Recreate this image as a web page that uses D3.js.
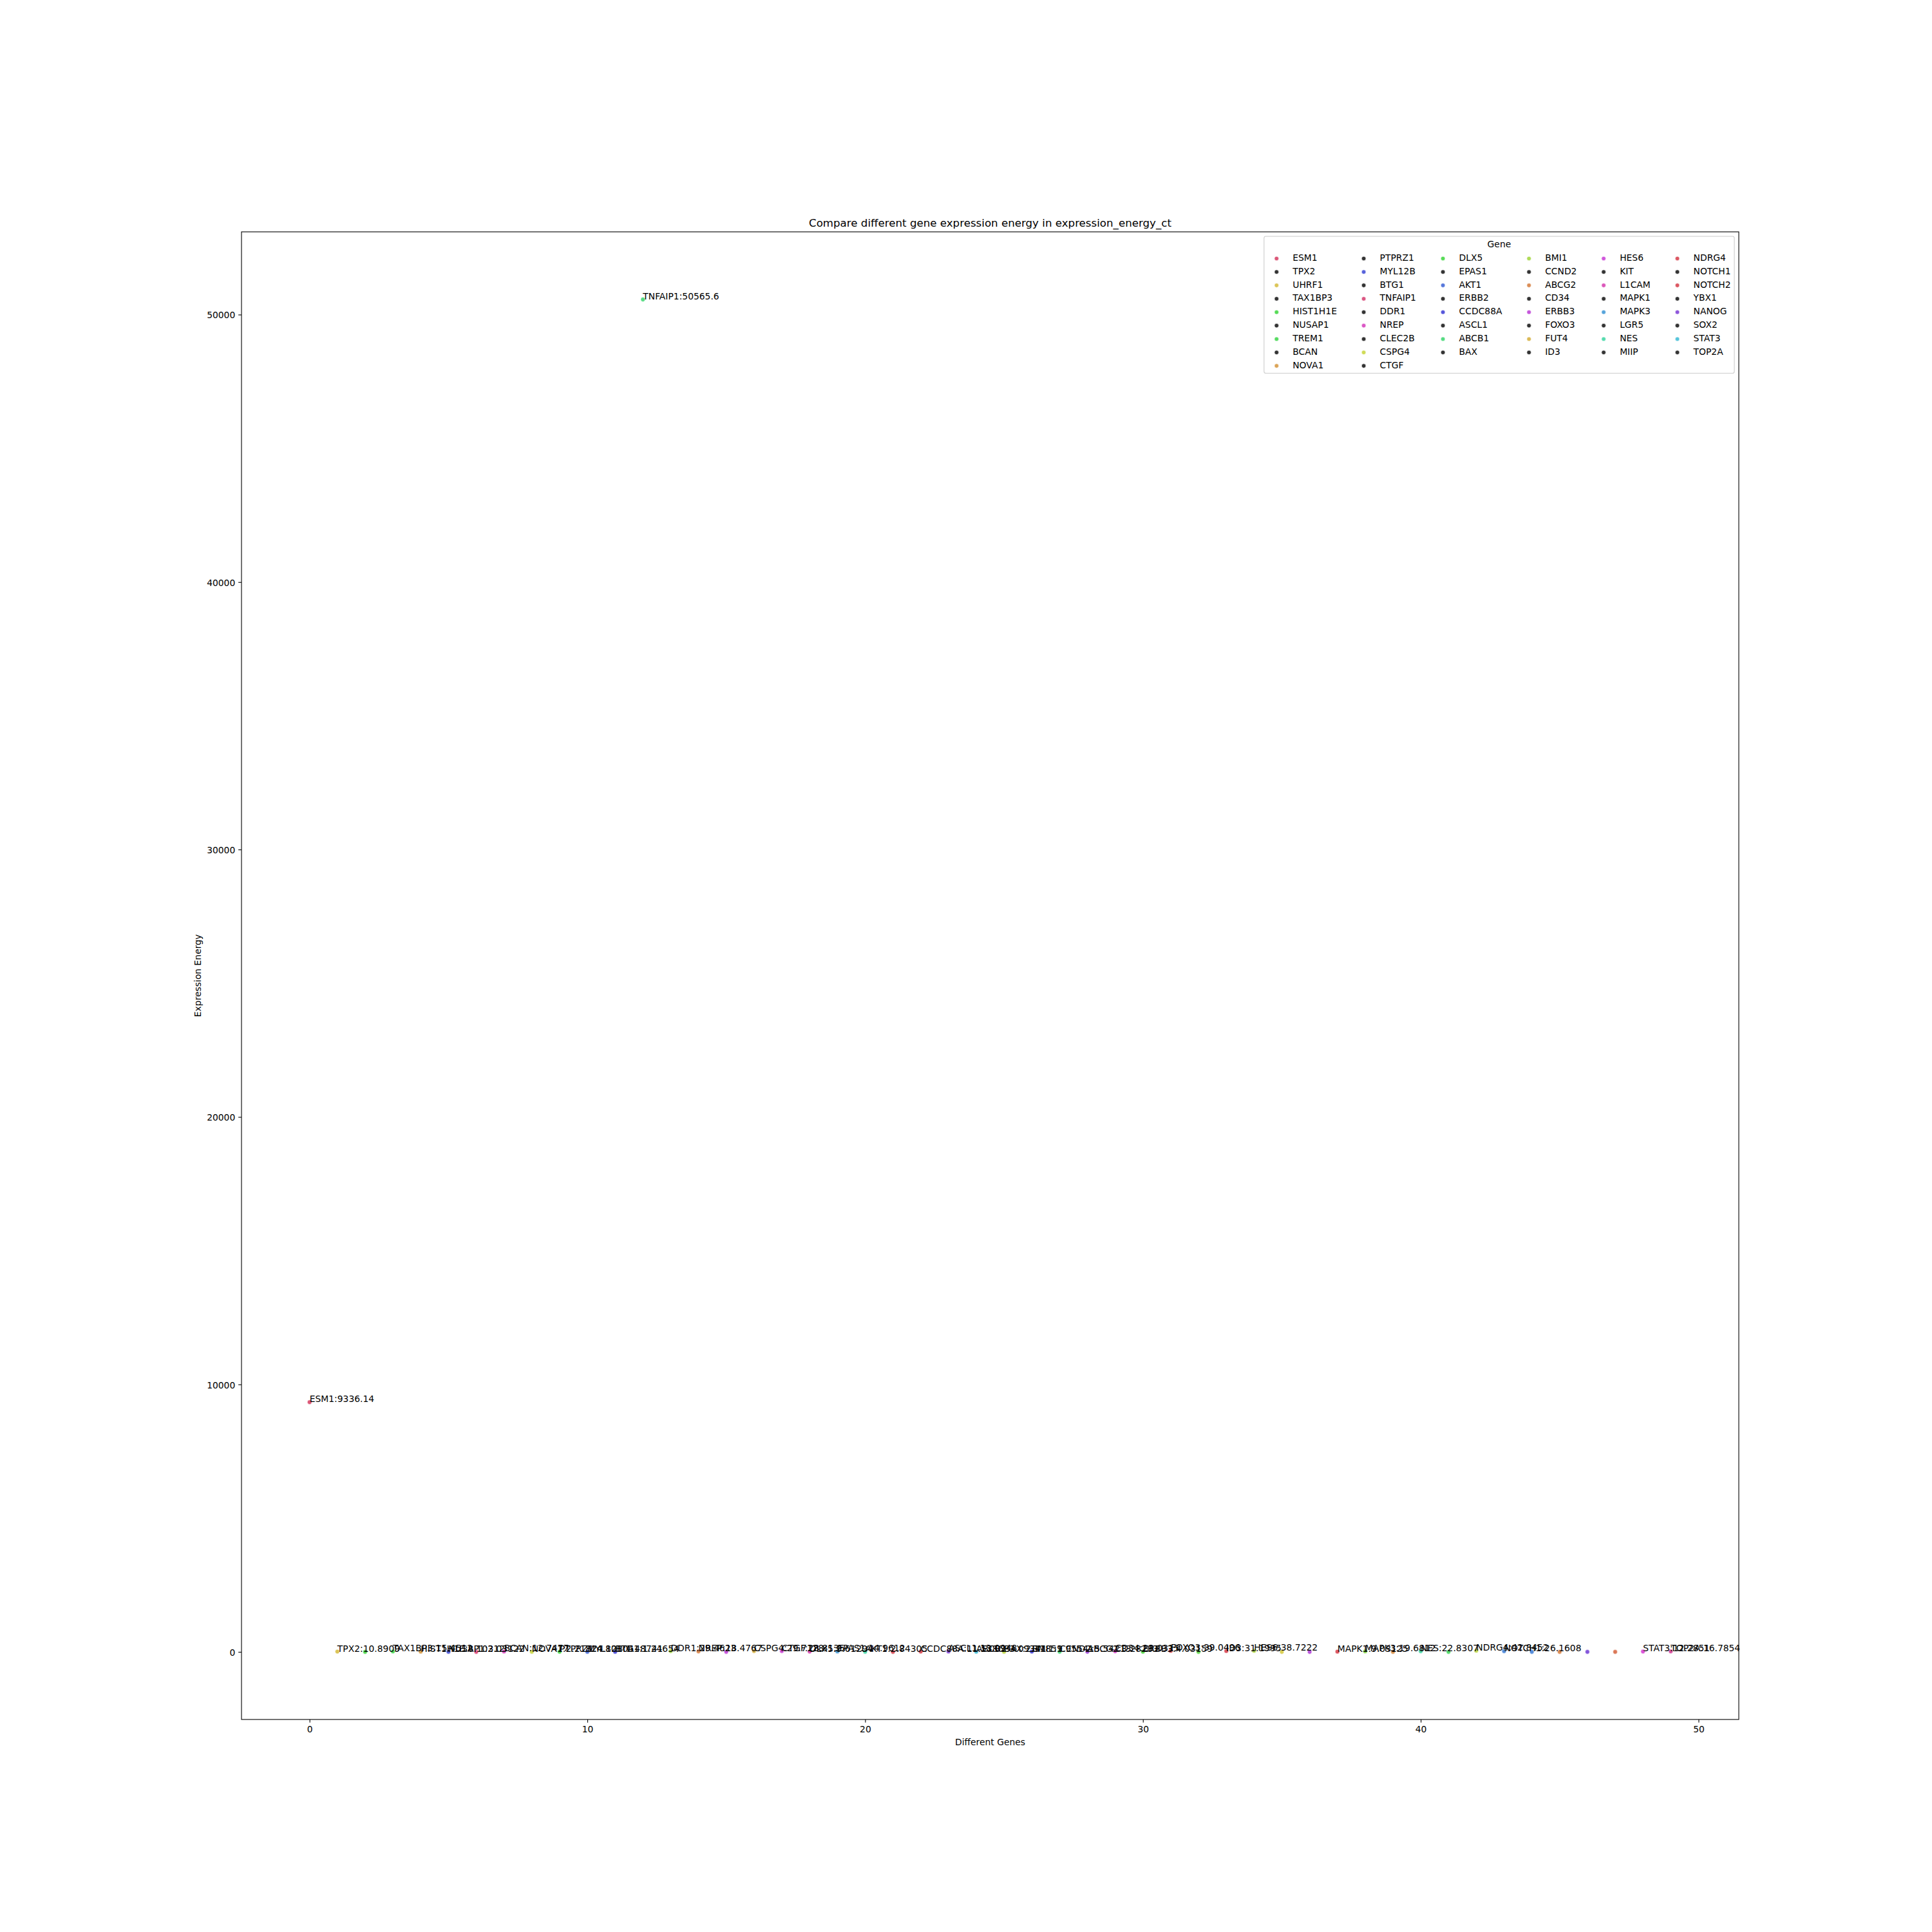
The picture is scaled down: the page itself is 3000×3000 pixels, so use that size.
<!DOCTYPE html>
<html><head><meta charset="utf-8">
<script src="https://cdn.jsdelivr.net/npm/d3@7"></script>
<style>body{margin:0;background:#fff} text{font-family:"DejaVu Sans",sans-serif}</style>
</head><body><script>
// ---------------- data ----------------
const genes = ["ESM1","TPX2","UHRF1","TAX1BP3","HIST1H1E","NUSAP1","TREM1","BCAN","NOVA1","PTPRZ1",
  "MYL12B","BTG1","TNFAIP1","DDR1","NREP","CLEC2B","CSPG4","CTGF","DLX5","EPAS1",
  "AKT1","ERBB2","CCDC88A","ASCL1","ABCB1","BAX","BMI1","CCND2","ABCG2","CD34",
  "ERBB3","FOXO3","FUT4","ID3","HES6","KIT","L1CAM","MAPK1","MAPK3","LGR5",
  "NES","MIIP","NDRG4","NOTCH1","NOTCH2","YBX1","NANOG","SOX2","STAT3","TOP2A"];
const energy = [9336.14,10.8909,0,15.4512,8.10312,2.03122,0,12.7477,2.21824,4.80104,
  1.48741,1.24654,50565.6,29.4623,18.4767,0,29.7128,28.8135,9.61294,14.9612,
  2.84305,0,11.5386,13.0948,3.09341,2.31851,9.95541,5.54213,3.28283,23.0315,
  4.03159,39.0496,0,31.1995,38.7222,0,0,9.03125,19.6812,0,
  22.8307,0,42.8452,26.1608,0,0,0,0,12.2851,16.7854];
const pointColors = ["#db5778","#dbc557","#57db57","#57db62","#dba457","#5762db","#db5783","#db57c5","#d0db57","#57db57",
  "#5778db","#5757db","#57db83","#afdb57","#db8e57","#c557db","#dbba57","#d057db","#db57ba","#57a4db",
  "#57dbaf","#db5762","#db5762","#8e57db","#57c5db","#c5db57","#5757db","#57db83","#a457db","#db57d0",
  "#62db57","#db5757","#6ddb57","#db5762","#badb57","#dbd057","#ba57db","#db5762","#8edb57","#db9957",
  "#57dbaf","#57db6d","#c5db57","#578edb","#578edb","#db8e57","#8357db","#db7857","#db57db","#db57a4"];
const legendDark = "#333333";
const xTicks = [0,10,20,30,40,50];
const yTicks = [0,10000,20000,30000,40000,50000];
const chartTitle = "Compare different gene expression energy in expression_energy_ct";
const xLabel = "Different Genes";
const yLabel = "Expression Energy";
const legendTitle = "Gene";

// ---------------- layout ----------------
const W = 3000, H = 3000, fs = 13.89;
const axL = 375, axR = 2700, axT = 360, axB = 2670;
const svg = d3.select("body").append("svg").attr("width", W).attr("height", H);
svg.append("rect").attr("width", W).attr("height", H).attr("fill", "#fff");

const n = genes.length;
const xPad = (n - 1) * 0.05;
const x = d3.scaleLinear().domain([-xPad, n - 1 + xPad]).range([axL, axR]);
const [yMin, yMax] = d3.extent(energy);
const yPad = (yMax - yMin) * 0.05;
const y = d3.scaleLinear().domain([yMin - yPad, yMax + yPad]).range([axB, axT]);

const tickLen = 4.86, tickPad = 4.86;
const gx = svg.append("g").attr("transform", `translate(0,${axB})`)
  .call(d3.axisBottom(x).tickValues(xTicks).tickFormat(d3.format("d")).tickSize(tickLen).tickPadding(tickPad));
const gy = svg.append("g").attr("transform", `translate(${axL},0)`)
  .call(d3.axisLeft(y).tickValues(yTicks).tickFormat(d3.format("d")).tickSize(tickLen).tickPadding(tickPad));
[gx, gy].forEach(g => {
  g.select(".domain").remove();
  g.selectAll("line").attr("stroke", "#000").attr("stroke-width", 1.1);
  g.selectAll("text").attr("font-size", fs).attr("font-family", "DejaVu Sans").attr("fill", "#000");
});
gx.selectAll("text").attr("dy", null).attr("y", tickLen + tickPad + 10.6);
gy.selectAll("text").attr("dy", null).attr("dy", 5.4);

// spines
svg.append("rect").attr("x", axL).attr("y", axT).attr("width", axR - axL).attr("height", axB - axT)
  .attr("fill", "none").attr("stroke", "#000").attr("stroke-width", 1.1);

// titles
svg.append("text").attr("x", (axL + axR) / 2).attr("y", axT - 8.33).attr("text-anchor", "middle")
  .attr("font-size", 16.67).text(chartTitle);
svg.append("text").attr("x", (axL + axR) / 2).attr("y", 2710).attr("text-anchor", "middle")
  .attr("font-size", fs).text(xLabel);
svg.append("text").attr("transform", `translate(312.2,${(axT + axB) / 2}) rotate(-90)`).attr("text-anchor", "middle")
  .attr("font-size", fs).text(yLabel);

// points
const data = genes.map((g, i) => ({ gene: g, i, v: energy[i], c: pointColors[i] }));
const plot = svg.append("g");
plot.selectAll("circle").data(data).join("circle")
  .attr("cx", d => x(d.i)).attr("cy", d => y(d.v)).attr("r", 3.4)
  .attr("fill", d => d.c).attr("stroke", "#fff").attr("stroke-width", 0.6);

// labels
const fmt = d3.format(".6~g");
plot.selectAll("text.lab").data(data.filter(d => d.v > 0)).join("text").attr("class", "lab")
  .attr("x", d => x(d.i)).attr("y", d => y(d.v)).attr("font-size", fs).attr("fill", "#000")
  .text(d => `${d.gene}:${fmt(d.v)}`);

// legend
const ncol = 6;
const nrowsBase = Math.floor(n / ncol), nLarge = n % ncol;
const cols = [];
let k = 0;
for (let c = 0; c < ncol; c++) {
  const cnt = nrowsBase + (c < nLarge ? 1 : 0);
  cols.push(d3.range(k, k + cnt));
  k += cnt;
}
const measure = svg.append("text").attr("font-size", fs);
const tw = s => { measure.text(s); return measure.node().getComputedTextLength(); };
const handleLen = 2.0 * fs, handlePad = 0.8 * fs, colSpace = 2.0 * fs, borderPad = 0.4 * fs,
      labelSp = 0.5 * fs, textH = fs, axPad = 0.5 * fs;
const colW = cols.map(col => handleLen + handlePad + d3.max(col, i => tw(genes[i])));
measure.remove();
const innerW = d3.sum(colW) + colSpace * (ncol - 1);
const nrows = d3.max(cols, c => c.length);
const legW = innerW + 2 * borderPad;
const legH = 2 * borderPad + textH + labelSp + nrows * textH + (nrows - 1) * labelSp;
const legR = axR - axPad, legT = axT + axPad, legL = legR - legW;
const lg = svg.append("g");
lg.append("rect").attr("x", legL).attr("y", legT).attr("width", legW).attr("height", legH)
  .attr("rx", 2.8).attr("fill", "#fff").attr("fill-opacity", 0.8).attr("stroke", "#cccccc").attr("stroke-width", 1.1);
lg.append("text").attr("x", legL + legW / 2).attr("y", legT + borderPad + 11.6).attr("text-anchor", "middle")
  .attr("font-size", fs).text(legendTitle);
let cx0 = legL + borderPad;
cols.forEach((col, c) => {
  col.forEach((gi, r) => {
    const rowTop = legT + borderPad + textH + labelSp + r * (textH + labelSp);
    const base = rowTop + 11.6;
    lg.append("circle").attr("cx", cx0 + handleLen / 2).attr("cy", base - 3.5).attr("r", 3.3)
      .attr("fill", gi % 2 === 0 ? pointColors[gi / 2] : legendDark).attr("stroke", "#fff").attr("stroke-width", 0.6);
    lg.append("text").attr("x", cx0 + handleLen + handlePad).attr("y", base).attr("font-size", fs).text(genes[gi]);
  });
  cx0 += colW[c] + colSpace;
});
</script></body></html>
